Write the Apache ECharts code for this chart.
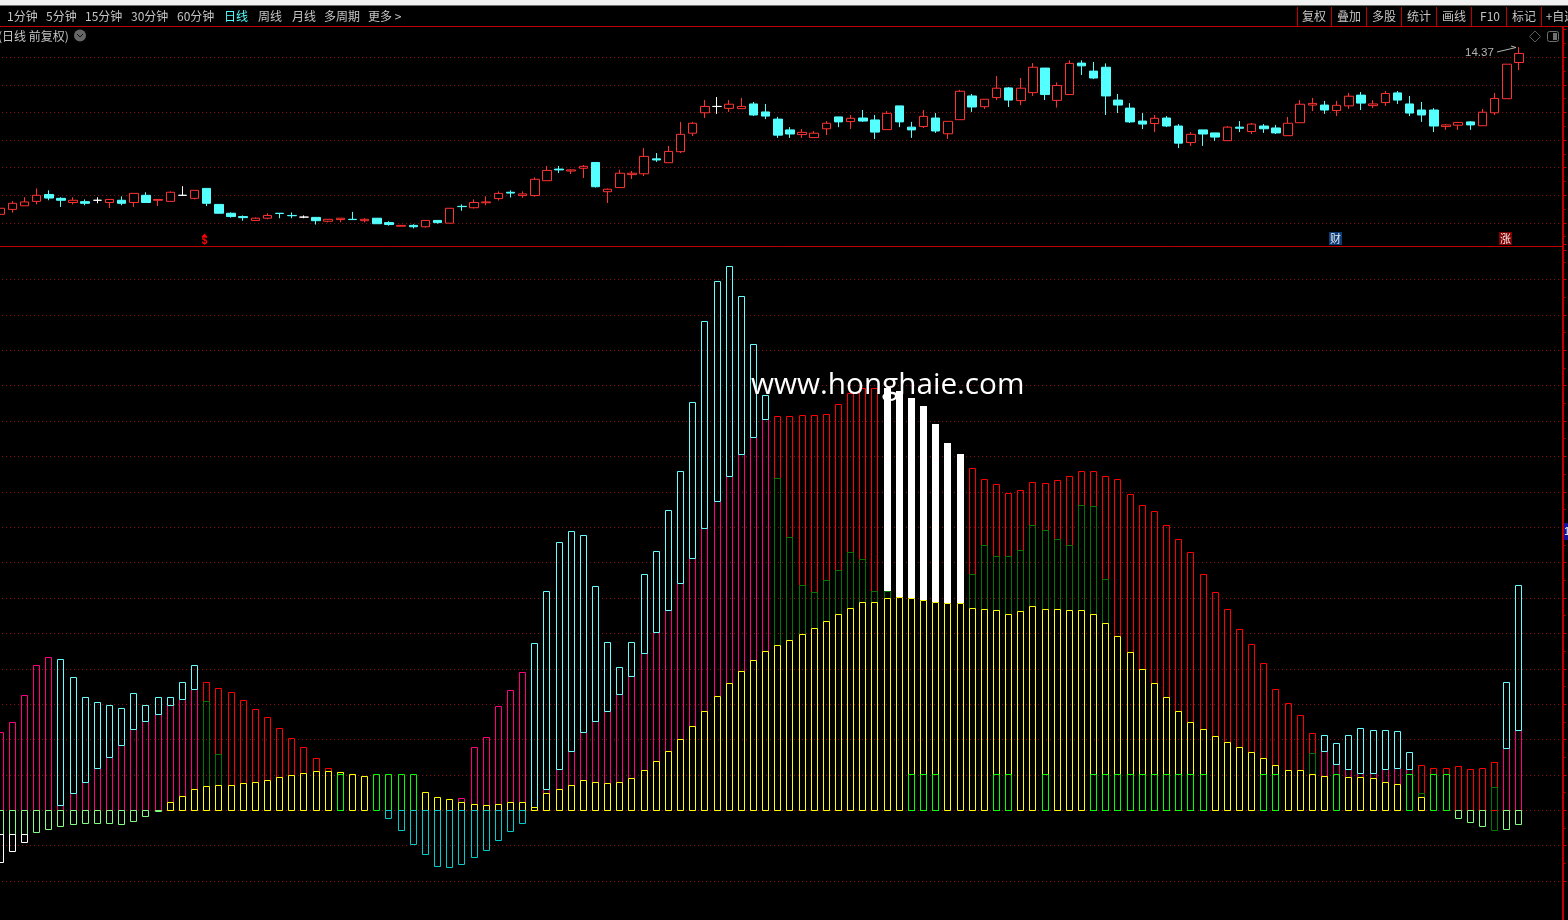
<!DOCTYPE html>
<html>
<head>
<meta charset="utf-8">
<style>
  html, body { margin: 0; padding: 0; background: #000; }
  #chart { width: 1568px; height: 920px; }
</style>
<script src="https://cdn.jsdelivr.net/npm/echarts@6/dist/echarts.min.js"></script>
</head>
<body>
<div id="chart"></div>
<script>
// daily candles: [open, close, low, high], index = trading day
const candles = [
  [8.31,8.53,8.29,8.59],[8.49,8.71,8.37,8.79],[8.62,8.76,8.62,8.93],[8.78,9.00,8.67,9.25],[9.03,8.90,8.82,9.18],
  [8.89,8.82,8.58,8.93],[8.74,8.82,8.67,8.93],[8.77,8.71,8.64,8.85],[8.82,8.82,8.71,8.93],[8.74,8.85,8.54,8.85],
  [8.82,8.71,8.64,8.96],[8.74,9.07,8.58,9.07],[9.00,8.74,8.74,9.11],[8.82,8.85,8.61,8.85],[8.78,9.11,8.78,9.14],
  [9.00,9.00,9.00,9.33],[8.89,9.18,8.85,9.18],[9.25,8.71,8.61,9.25],[8.67,8.35,8.35,8.67],[8.35,8.23,8.19,8.38],
  [8.23,8.19,8.08,8.27],[8.09,8.17,8.09,8.20],[8.17,8.27,8.13,8.35],[8.35,8.34,8.17,8.35],[8.27,8.26,8.17,8.38],
  [8.21,8.21,8.17,8.27],[8.20,8.08,7.94,8.20],[8.06,8.13,8.02,8.13],[8.12,8.17,8.02,8.17],[8.13,8.12,8.12,8.40],
  [8.08,8.13,8.02,8.17],[8.17,7.97,7.97,8.17],[8.01,7.94,7.90,8.06],[7.88,7.91,7.88,7.91],[7.91,7.86,7.80,7.95],
  [7.86,8.09,7.83,8.09],[8.09,8.01,7.97,8.09],[7.99,8.53,7.99,8.53],[8.60,8.59,8.44,8.67],[8.55,8.74,8.52,8.85],
  [8.73,8.76,8.64,8.96],[8.88,9.07,8.81,9.14],[9.11,9.08,8.92,9.18],[8.99,9.05,8.91,9.14],[8.99,9.58,8.95,9.65],
  [9.53,9.90,9.53,10.06],[9.95,9.92,9.81,10.06],[9.88,9.92,9.77,9.94],[9.98,10.05,9.63,10.10],[10.19,9.31,9.28,10.19],
  [9.13,9.22,8.72,9.25],[9.28,9.80,9.28,9.92],[9.75,9.80,9.59,9.88],[9.78,10.41,9.70,10.71],[10.32,10.28,10.21,10.53],
  [10.18,10.59,10.18,10.79],[10.58,11.21,10.53,11.66],[11.25,11.61,11.15,11.66],[11.99,12.22,11.80,12.45],[12.22,12.22,11.95,12.56],
  [12.15,12.30,12.02,12.45],[12.14,12.22,12.14,12.53],[12.31,11.91,11.87,12.38],[12.02,11.87,11.76,12.31],[11.76,11.18,11.08,11.84],
  [11.37,11.22,11.08,11.47],[11.20,11.28,11.08,11.40],[11.09,11.25,11.09,11.33],[11.41,11.61,11.18,11.69],[11.84,11.66,11.47,11.84],
  [11.67,11.79,11.40,11.91],[11.80,11.69,11.66,12.09],[11.73,11.29,11.04,11.91],[11.38,11.97,11.38,12.05],[12.24,11.66,11.47,12.24],
  [11.47,11.37,11.08,11.66],[11.49,11.86,11.44,12.09],[11.80,11.33,11.26,11.98],[11.23,11.68,11.04,11.68],[11.74,12.77,11.74,12.82],
  [12.60,12.20,12.02,12.67],[12.21,12.48,12.13,12.48],[12.54,12.88,12.45,13.32],[12.89,12.45,12.20,12.92],[12.43,12.88,12.27,13.25],
  [12.72,13.64,12.60,13.79],[13.61,12.65,12.45,13.61],[12.44,12.98,12.18,13.09],[12.65,13.78,12.65,13.89],[13.79,13.69,13.36,13.89],
  [13.50,13.25,13.21,13.83],[13.64,12.60,11.91,13.78],[12.45,12.27,11.98,12.67],[12.16,11.66,11.62,12.34],[11.69,11.58,11.40,11.98],
  [11.60,11.79,11.29,11.91],[11.80,11.51,11.47,11.87],[11.51,10.89,10.71,11.58],[10.91,11.21,10.79,11.29],[11.37,11.22,10.79,11.37],
  [11.26,11.11,10.97,11.26],[10.98,11.47,10.98,11.51],[11.47,11.43,11.29,11.69],[11.31,11.58,11.22,11.62],[11.51,11.41,11.26,11.58],
  [11.44,11.26,11.22,11.55],[11.16,11.61,11.16,11.84],[11.63,12.30,11.63,12.45],[12.27,12.33,12.05,12.53],[12.27,12.09,11.95,12.42],
  [12.07,12.26,11.87,12.42],[12.24,12.59,12.13,12.71],[12.63,12.34,12.09,12.74],[12.25,12.31,12.16,12.45],[12.36,12.69,12.24,12.78],
  [12.71,12.45,12.31,12.78],[12.31,11.98,11.87,12.60],[12.09,11.91,11.66,12.38],[12.09,11.51,11.29,12.16],[11.49,11.55,11.37,11.58],
  [11.54,11.64,11.37,11.64],[11.66,11.55,11.37,11.69],[11.52,12.01,11.52,12.13],[11.99,12.51,11.91,12.71],[12.50,13.75,12.50,13.75],
  [13.81,14.14,13.54,14.37]
];

// indicator panel, [day, top] or [day, low, high]
const pinkBars = [[0,22.0],[1,24.9],[2,32.5],[3,41.2],[4,43.2],[38,3.4],[39,17.8],[40,20.6],[41,29.4],[42,33.9],[43,39.0]];
const cyanBoxes = [
  [5,1.4,42.9],[6,4.8,37.6],[7,7.9,31.9],[8,11.9,30.5],[9,15.1,29.9],[10,18.4,28.8],[11,22.9,33.1],[12,25.1,29.7],
  [13,27.1,31.9],[14,29.7,31.9],[15,31.4,36.2],[16,34.2,41.0],
  [44,0.8,47.2],[45,5.9,62.1],[46,11.6,75.7],[47,16.7,78.8],[48,22.0,77.7],[49,25.1,63.3],[50,28.0,47.7],[51,32.8,40.4],
  [52,37.9,47.5],[53,44.4,66.9],[54,50.3,73.4],[55,56.5,85.0],[56,64.1,95.8],[57,71.2,115.3],[58,79.7,138.4],[59,87.3,149.7],
  [60,94.6,153.7],[61,100.8,145.2],[62,105.6,131.9],[63,110.5,117.5],
  [109,16.7,21.2],[110,13.0,18.9],[111,11.6,21.2],[112,10.5,23.4],[113,10.5,22.6],[114,11.6,22.6],[115,11.9,22.3],[116,11.6,16.4],
  [124,17.5,36.2],[125,22.6,63.6]
];
const redBars = [
  [17,36.2],[18,34.5],[19,33.3],[20,31.1],[21,28.5],[22,26.3],[23,23.2],[24,20.3],[25,17.8],[26,14.7],[27,12.1],
  [64,111.3],[65,111.3],[66,111.6],[67,111.6],[68,112.1],[69,114.7],[70,117.8],[71,119.2],[72,119.2],
  [80,96.6],[81,93.5],[82,92.1],[83,89.8],[84,90.4],[85,92.7],[86,92.4],[87,93.2],[88,94.6],[89,95.8],[90,95.8],[91,94.6],
  [92,93.5],[93,89.5],[94,86.4],[95,84.5],[96,80.5],[97,76.8],[98,72.9],[99,66.7],[100,61.6],[101,56.8],[102,51.1],[103,46.9],
  [104,41.5],[105,34.2],[106,30.2],[107,26.8],[108,21.8],
  [117,12.7],[118,12.1],[119,12.1],[120,12.4],[121,11.6],[122,12.1],[123,13.6]
];
const darkBoxes = [
  [17,6.8,30.8],[18,7.1,15.8],[64,46.6,93.8],[65,48.0,77.1],[66,49.7,63.8],[67,51.4,61.6],[68,53.4,65.0],[69,55.4,67.8],
  [70,57.1,72.9],[71,58.8,70.9],[72,59.0,62.1],[73,59.9,62.1],
  [80,57.3,66.7],[81,56.8,74.9],[82,56.5,72.0],[83,55.4,71.8],[84,56.2,73.7],[85,57.6,80.5],[86,57.0,79.1],[87,57.0,76.6],
  [88,56.7,74.9],[89,56.7,86.4],[90,55.4,85.9],[91,52.8,65.5],[108,10.2,16.1],[117,3.8,4.8],[123,-5.6,6.5]
];
const whiteBlocks = [[73,62.1,119.2],[74,60.2,118.6],[75,59.9,116.4],[76,59.5,114.2],[77,58.8,109.3],[78,58.5,103.7],[79,58.5,100.8]];
const yellowBars = [
  [14,2.3],[15,4.0],[16,5.9],[17,6.8],[18,7.1],[19,7.1],[20,7.6],[21,7.9],[22,8.5],[23,9.3],[24,9.9],[25,10.5],[26,11.0],[27,11.0],
  [28,10.7],[29,10.2],[30,9.6],[35,5.1],[36,3.7],[37,3.1],[38,2.3],[39,1.7],[40,1.4],[41,1.7],[42,2.3],[43,2.3],[44,0.8],[45,4.8],
  [46,5.9],[47,7.1],[48,8.5],[49,7.9],[50,7.6],[51,7.9],[52,9.0],[53,11.3],[54,13.8],[55,16.7],[56,20.1],[57,23.7],[58,28.0],
  [59,32.2],[60,35.9],[61,39.5],[62,42.4],[63,44.9],[64,46.6],[65,48.0],[66,49.7],[67,51.4],[68,53.4],[69,55.4],[70,57.1],[71,58.8],
  [72,59.0],[73,59.9],[74,60.2],[75,59.9],[76,59.5],[77,58.8],[78,58.5],[79,58.5],[80,57.3],[81,56.8],[82,56.5],[83,55.4],[84,56.2],
  [85,57.6],[86,57.0],[87,57.0],[88,56.7],[89,56.7],[90,55.4],[91,52.8],[92,49.4],[93,44.6],[94,39.8],[95,35.9],[96,31.9],[97,28.0],
  [98,24.9],[99,22.9],[100,20.9],[101,19.2],[102,17.8],[103,16.4],[104,14.7],[105,12.7],[106,11.3],[107,11.3],[108,10.2],[109,9.6],
  [111,9.3],[112,9.3],[113,9.0],[114,7.9],[115,7.3],[117,3.8]
];
const greenDays = [28,31,32,33,34,75,76,77,82,83,86,90,91,92,93,94,95,96,97,98,99,104,105,110,116,118,119];
const greenLevel = 10.2;
const lightNegBars = [[0,-6.8],[1,-6.8],[2,-6.8],[3,-6.2],[4,-5.4],[5,-4.5],[6,-4.0],[7,-3.7],[8,-3.7],[9,-3.7],[10,-4.0],[11,-3.1],[12,-1.7],[13,-0.1],
  [120,-2.3],[121,-3.4],[122,-4.5],[124,-5.4],[125,-4.0]];
const whiteNegBoxes = [[0,-14.7,-6.8],[1,-11.6,-6.8],[2,-9.0,-6.8]];
const tealNegBars = [[32,-2.3],[33,-5.5],[34,-9.4],[35,-12.3],[36,-15.6],[37,-15.9],[38,-15.1],[39,-13.1],[40,-11.1],[41,-8.3],[42,-5.8],[43,-3.5]];

// spare slots to the right of the last bar, up to the price axis
const days = [];
for (let i = 0; i < 129; i++) days.push(String(i));

const upColor = "#ff3232";
const downColor = "#54ffff";
const gridColor = "#8a1018";
const frameColor = "#c00000";
const menuFont = '12px "Noto Sans CJK SC"';
const menuColor = "#c4c4c4";

// rectangles are snapped to whole pixels like the trading software does
function boxItem(filled, color) {
  return function (params, api) {
    let cx = api.coord([api.value(0), 0])[0];
    let top = Math.round(api.coord([api.value(0), api.value(2)])[1]);
    let bottom = Math.round(api.coord([api.value(0), api.value(1)])[1]);
    if (filled) {
      return {
        type: "rect",
        shape: { x: Math.floor(cx) - 3, y: top, width: 7, height: bottom - top },
        style: { fill: color }
      };
    }
    return {
      type: "rect",
      shape: { x: Math.floor(cx) - 2.5, y: top + 0.5, width: 6, height: bottom - top },
      style: { fill: "none", stroke: color, lineWidth: 1 }
    };
  };
}

function boxSeries(name, rows, color, filled) {
  return {
    name: name,
    type: "custom",
    xAxisIndex: 1,
    yAxisIndex: 1,
    silent: true,
    clip: false,
    data: rows,
    encode: { x: 0, y: [1, 2] },
    renderItem: boxItem(filled, color)
  };
}

function menuText(x, text, color) {
  return { type: "text", z: 20, style: { x: x, y: 16, text: text, fill: color || menuColor, font: menuFont, verticalAlign: "middle" } };
}

function toolText(cx, text) {
  return { type: "text", z: 20, style: { x: cx, y: 16, text: text, fill: menuColor, font: menuFont, align: "center", verticalAlign: "middle" } };
}

function frameLine(x1, y1, x2, y2, w) {
  return { type: "line", z: 15, shape: { x1: x1, y1: y1, x2: x2, y2: y2 }, style: { stroke: frameColor, lineWidth: w || 1 } };
}

const toolSeparators = [1297.5, 1331.5, 1366.5, 1401.5, 1436.5, 1471.5, 1506.5, 1541.5];
const graphics = [
  { type: "rect", z: 14, shape: { x: 0, y: 0, width: 1568, height: 5 }, style: { fill: "#f0f0f0" } },
  { type: "rect", z: 14, shape: { x: 0, y: 5, width: 1568, height: 1 }, style: { fill: "#707070" } },
  frameLine(0, 26.5, 1568, 26.5),
  frameLine(0, 246.5, 1563, 246.5),
  frameLine(1563, 26, 1563, 920, 2),
  menuText(7, "1分钟"), menuText(46, "5分钟"), menuText(85, "15分钟"), menuText(131, "30分钟"), menuText(177, "60分钟"),
  menuText(224, "日线", "#54ffff"), menuText(258, "周线"), menuText(292, "月线"), menuText(324, "多周期"), menuText(368, "更多 >"),
  toolText(1314, "复权"), toolText(1349, "叠加"), toolText(1384, "多股"), toolText(1419, "统计"), toolText(1454, "画线"),
  toolText(1490, "F10"), toolText(1524, "标记"), toolText(1561, "+自选"),
  { type: "text", z: 20, style: { x: -2, y: 36, text: "(日线 前复权)", fill: menuColor, font: menuFont, verticalAlign: "middle" } },
  { type: "circle", z: 20, shape: { cx: 80, cy: 35.5, r: 6 }, style: { fill: "#666" } },
  { type: "polyline", z: 21, shape: { points: [[77, 34], [80, 37], [83, 34]] }, style: { stroke: "#111", fill: "none", lineWidth: 1 } },
  // last price note and icons
  { type: "text", z: 20, style: { x: 1465, y: 53, text: "14.37", fill: "#b4b4b4", font: '11.5px "Liberation Sans"', verticalAlign: "middle" } },
  { type: "polyline", z: 20, shape: { points: [[1497, 52], [1516, 47.5], [1511, 46]] }, style: { stroke: "#b4b4b4", fill: "none", lineWidth: 1 } },
  { type: "polygon", z: 20, shape: { points: [[1535, 31], [1540.5, 36.5], [1535, 42], [1529.5, 36.5]] }, style: { stroke: "#5a5a5a", fill: "none", lineWidth: 1 } },
  { type: "rect", z: 20, shape: { x: 1547.5, y: 31.5, width: 11, height: 10, r: 2 }, style: { stroke: "#707070", fill: "none", lineWidth: 1 } },
  { type: "rect", z: 20, shape: { x: 1553, y: 33, width: 4, height: 7 }, style: { fill: "#707070" } },
  // event markers
  { type: "polygon", z: 20, shape: { points: [[204.5, 233.5], [207.5, 237], [201.5, 237]] }, style: { fill: "#ff0000" } },
  { type: "text", z: 20, style: { x: 204.5, y: 241.5, text: "$", fill: "#ff0000", font: 'bold 10px "Liberation Sans"', align: "center", verticalAlign: "middle" } },
  { type: "rect", z: 20, shape: { x: 1329, y: 232, width: 13, height: 13 }, style: { fill: "#0c3c78" } },
  { type: "text", z: 21, style: { x: 1335.5, y: 238.5, text: "财", fill: "#e8e8e8", font: '11px "Noto Sans CJK SC"', align: "center", verticalAlign: "middle" } },
  { type: "rect", z: 20, shape: { x: 1499, y: 232, width: 13, height: 13 }, style: { fill: "#800000" } },
  { type: "text", z: 21, style: { x: 1505.5, y: 238.5, text: "涨", fill: "#f0f0f0", font: '11px "Noto Sans CJK SC"', align: "center", verticalAlign: "middle" } },
  // edge tag on the price axis
  { type: "rect", z: 20, shape: { x: 1564, y: 523, width: 4, height: 17 }, style: { fill: "#10109a" } },
  { type: "text", z: 21, style: { x: 1564, y: 532, text: "1", fill: "#fff", font: '11px "Liberation Sans"', verticalAlign: "middle" } },
  { type: "text", z: 30, style: { x: 751, y: 386, text: "www.honghaie.com", fill: "#fff", font: '29.7px "Open Sans"', verticalAlign: "middle" } }
];
toolSeparators.forEach(function (x) { graphics.push(frameLine(x, 7, x, 26)); });

function valueAxis(gridIndex, min, max, interval, minLine) {
  return {
    type: "value",
    gridIndex: gridIndex,
    position: "right",
    offset: 2,
    min: min,
    max: max,
    interval: interval,
    axisLabel: { show: false },
    axisLine: { show: false },
    axisTick: { show: true, length: 3, lineStyle: { color: frameColor } },
    minorTick: { show: true, length: 2, splitNumber: 2, lineStyle: { color: frameColor } },
    splitLine: { show: true, showMinLine: minLine, showMaxLine: false, lineStyle: { color: gridColor, width: 1, type: [1, 3] } }
  };
}

let chart = echarts.init(document.getElementById("chart"), null, { renderer: "canvas" });
chart.setOption({
  animation: false,
  backgroundColor: "#000",
  grid: [
    { left: -5.925, top: 29.7, width: 1567.4, height: 220.8, outerBoundsMode: "none" },
    { left: -5.925, top: 244.1, width: 1567.4, height: 637, outerBoundsMode: "none" }
  ],
  xAxis: [
    { type: "category", gridIndex: 0, data: days, show: false },
    { type: "category", gridIndex: 1, data: days, show: false }
  ],
  yAxis: [valueAxis(0, 7, 15, 1, false), valueAxis(1, -20, 160, 10, true)],
  series: [
    {
      name: "日线",
      type: "candlestick",
      xAxisIndex: 0,
      yAxisIndex: 0,
      barWidth: 9,
      silent: true,
      clip: false,
      data: candles,
      itemStyle: {
        color: "#000",
        color0: downColor,
        borderColor: upColor,
        borderColor0: downColor,
        borderColorDoji: "#fff",
        borderWidth: 1
      }
    },
    boxSeries("pink", pinkBars.map(r => [r[0], 0, r[1]]).concat(cyanBoxes.map(r => [r[0], 0, r[1]])), "#ff0080"),
    boxSeries("red", redBars.map(r => [r[0], 0, r[1]]), "#ff0000"),
    boxSeries("white", whiteBlocks, "#ffffff", true),
    boxSeries("dark", darkBoxes, "#007800"),
    boxSeries("cyan", cyanBoxes, "#66ffff"),
    boxSeries("yellow", yellowBars.map(r => [r[0], 0, r[1]]), "#ffff00"),
    boxSeries("green", greenDays.map(d => [d, 0, greenLevel]), "#00ff00"),
    boxSeries("teal", tealNegBars.map(r => [r[0], r[1], 0]), "#00cccc"),
    boxSeries("lightNeg", lightNegBars.map(r => [r[0], r[1], 0]), "#80ff80"),
    boxSeries("whiteNeg", whiteNegBoxes, "#ffffff")
  ],
  graphic: graphics
});
</script>
</body>
</html>
